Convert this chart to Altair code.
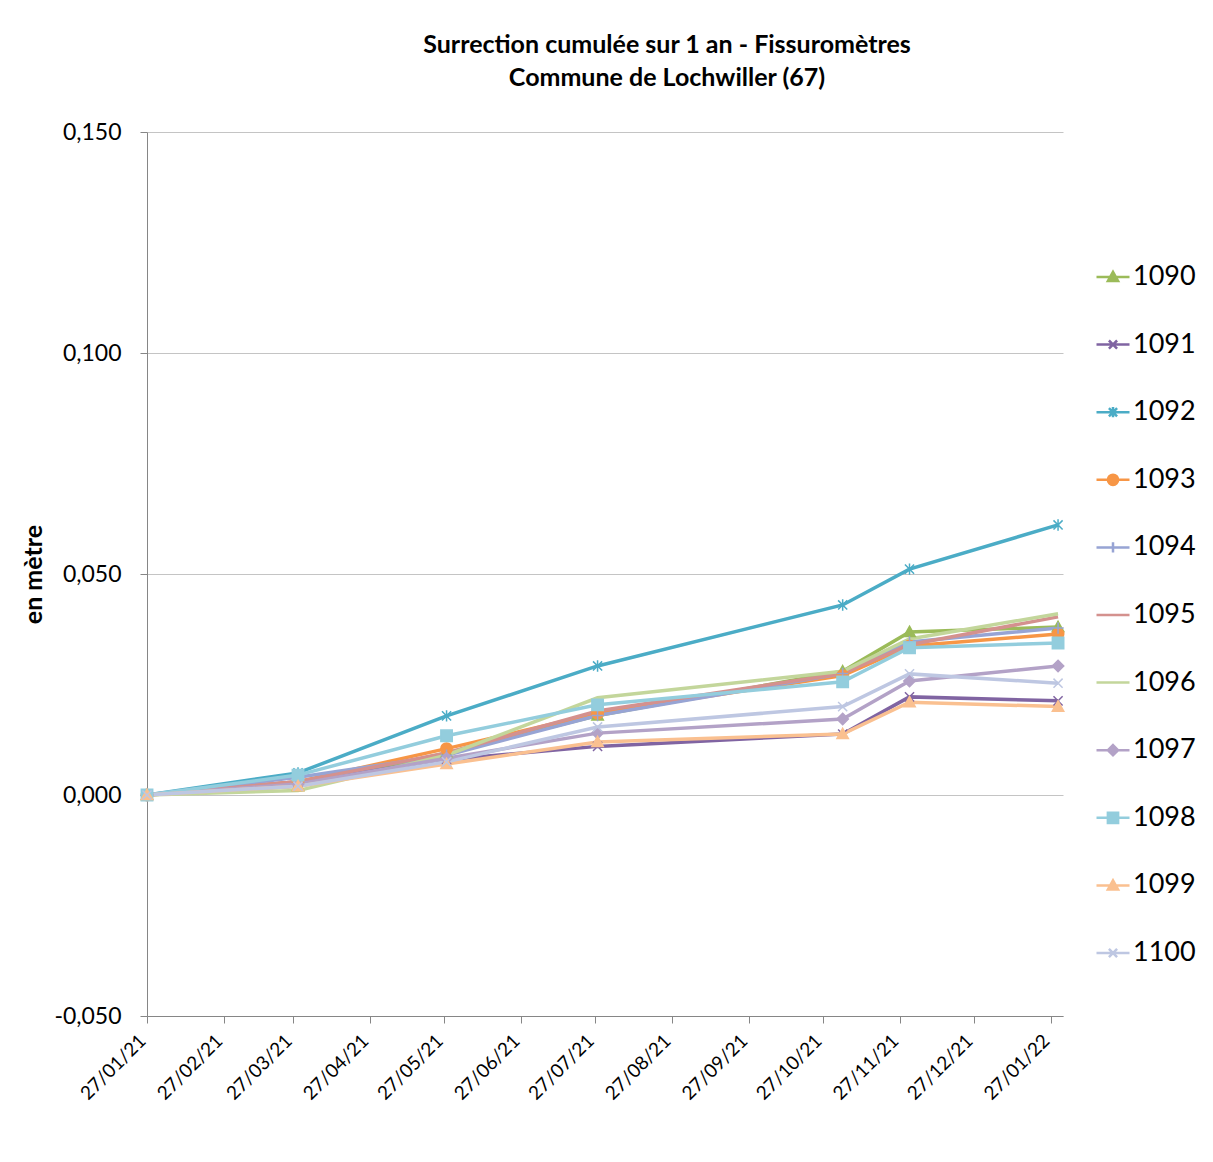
import altair as alt
import pandas as pd

# ---- data ----
SERIES = ["1090", "1091", "1092", "1093", "1094", "1095", "1096", "1097", "1098", "1099", "1100"]
DATES = ["2021-01-27", "2021-03-29", "2021-05-28", "2021-07-28", "2021-11-04", "2021-12-01", "2022-01-30"]

V1090 = [0.0, 0.0020, 0.0095, 0.0180, 0.0280, 0.0369, 0.0380]
V1091 = [0.0, 0.0030, 0.0080, 0.0110, 0.0138, 0.0222, 0.0213]
V1092 = [0.0, 0.0050, 0.0179, 0.0292, 0.0430, 0.0511, 0.0611]
V1093 = [0.0, 0.0030, 0.0105, 0.0185, 0.0270, 0.0337, 0.0364]
V1094 = [0.0, 0.0040, 0.0090, 0.0180, 0.0275, 0.0346, 0.0378]
V1095 = [0.0, 0.0030, 0.0095, 0.0190, 0.0275, 0.0340, 0.0403]
V1096 = [0.0, 0.0010, 0.0090, 0.0220, 0.0280, 0.0353, 0.0410]
V1097 = [0.0, 0.0025, 0.0083, 0.0140, 0.0172, 0.0258, 0.0292]
V1098 = [0.0, 0.0045, 0.0134, 0.0204, 0.0256, 0.0333, 0.0344]
V1099 = [0.0, 0.0020, 0.0070, 0.0120, 0.0138, 0.0210, 0.0200]
V1100 = [0.0, 0.0020, 0.0075, 0.0154, 0.0200, 0.0274, 0.0253]
VALUES = [V1090, V1091, V1092, V1093, V1094, V1095, V1096, V1097, V1098, V1099, V1100]

TICK_DATES = ["2021-01-27", "2021-02-27", "2021-03-27", "2021-04-27", "2021-05-27",
              "2021-06-27", "2021-07-27", "2021-08-27", "2021-09-27", "2021-10-27",
              "2021-11-27", "2021-12-27", "2022-01-27"]
X_DOMAIN = ["2021-01-27", "2022-02-01"]
Y_TICKS = [-0.05, 0.0, 0.05, 0.10, 0.15]

TITLE = ["Surrection cumulée sur 1 an - Fissuromètres", "Commune de Lochwiller (67)"]
Y_TITLE = "en mètre"

# ---- styles ----
COLORS = ["#9BBB59", "#8064A2", "#4BACC6", "#F79646", "#97A4D4", "#D4918E",
          "#C3D69B", "#B3A2C7", "#93CDDD", "#FAC090", "#BEC7E2"]


def f(v):
    return f"{v:.3f}"


def tri(s):
    return f"M0,{f(-s)}L{f(s)},{f(0.8 * s)}L{f(-s)},{f(0.8 * s)}Z"


def xm(s):
    a = 0.8 * s
    return f"M{f(-a)},{f(-a)}L{f(a)},{f(a)}M{f(-a)},{f(a)}L{f(a)},{f(-a)}"


def star(s):
    return xm(s) + f"M0,{f(-s)}L0,{f(s)}"


def circ(s):
    return f"M{f(s)},0A{f(s)},{f(s)} 0 1,1 {f(-s)},0A{f(s)},{f(s)} 0 1,1 {f(s)},0Z"


def plus(s):
    return f"M{f(-s)},0L{f(s)},0M0,{f(-s)}L0,{f(s)}"


def diam(s):
    return f"M0,{f(-s)}L{f(s)},0L0,{f(s)}L{f(-s)},0Z"


def sqr(s):
    return f"M{f(-s)},{f(-s)}H{f(s)}V{f(s)}H{f(-s)}Z"


def none(s):
    return ""


MARKER_FUNCS = [tri, xm, star, circ, plus, none, none, diam, sqr, tri, xm]
MARKERS = [m(1.0) for m in MARKER_FUNCS]
LEGEND_ICONS = ["M-1,0H1" + m(0.31) for m in MARKER_FUNCS]


def ms(d):
    return int(pd.Timestamp(d, tz="UTC").value // 1_000_000)


rows = []
for s, vals, mk, col in zip(SERIES, VALUES, MARKERS, COLORS):
    for d, v in zip(DATES, vals):
        rows.append({"serie": s, "date": d, "value": v, "mk": mk, "col": col})
df = pd.DataFrame(rows)

FONT = "Lato"
GREY = "#868686"

x_enc = alt.X(
    "date:T",
    scale=alt.Scale(type="utc", domain=[ms(d) for d in X_DOMAIN]),
    axis=alt.Axis(values=[ms(d) for d in TICK_DATES],
                  labelExpr="utcFormat(datum.value, '%d/%m/%y')",
                  labelAngle=-45, labelFontSize=19, labelFont=FONT, labelColor="black",
                  labelOverlap=False, labelBound=False,
                  grid=False, domainColor=GREY, tickColor=GREY, tickSize=7, title=None,
                  labelPadding=8, labelOffset=-11),
)
y_enc = alt.Y(
    "value:Q",
    scale=alt.Scale(domain=[-0.05, 0.15], nice=False, zero=False),
    axis=alt.Axis(values=Y_TICKS,
                  labelExpr="replace(replace(format(datum.value, '.3f'), '.', ','), '\u2212', '-')",
                  title=Y_TITLE, titleFontSize=25, titleFont=FONT, titleFontWeight="bold",
                  titleColor="black", titlePadding=7,
                  labelFontSize=23, labelFont=FONT, labelColor="black", labelPadding=19,
                  gridColor="#C4C4C4", domainColor=GREY, tickColor=GREY, tickSize=7),
)

lines = alt.Chart(df).mark_line(strokeWidth=3.5).encode(
    x=x_enc, y=y_enc,
    color=alt.Color("col:N", scale=None),
    detail="serie:N",
)

points = alt.Chart(df).transform_filter("datum.mk != ''").mark_point(
    filled=True, size=130, opacity=1, strokeWidth=1.5
).encode(
    x=x_enc, y=y_enc,
    color=alt.Color("col:N", scale=None),
    stroke=alt.Stroke("col:N", scale=None),
    shape=alt.Shape("mk:N", scale=None),
)

leg = alt.Legend(orient="none", legendX=948, legendY=127, title=None, labelFontSize=27,
                 labelFont=FONT, labelColor="black", symbolSize=1089, symbolStrokeWidth=2.5,
                 symbolOpacity=1, rowPadding=36.6, labelOffset=2, padding=0)

# invisible layer that only carries the legend (Excel-like line + marker keys)
legend_layer = alt.Chart(df).mark_point(
    filled=True, size=1089, opacity=0, strokeWidth=2.5
).encode(
    x=x_enc, y=y_enc,
    color=alt.Color("serie:N", scale=alt.Scale(domain=SERIES, range=COLORS), legend=leg),
    stroke=alt.Stroke("serie:N", scale=alt.Scale(domain=SERIES, range=COLORS), legend=leg),
    shape=alt.Shape("serie:N", scale=alt.Scale(domain=SERIES, range=LEGEND_ICONS), legend=leg),
)

chart = alt.layer(lines, points, legend_layer).properties(
    width=916, height=884,
    title=alt.TitleParams(TITLE, fontSize=25, font=FONT, fontWeight="bold", color="black",
                          lineHeight=33, offset=30, anchor="middle", frame="group", dx=62),
    padding={"left": 13, "top": 25, "right": 5, "bottom": 5},
    background="white",
).configure_view(strokeWidth=0, stroke="transparent")

chart.save("out.html", embed_options={"renderer": "svg", "actions": False})
